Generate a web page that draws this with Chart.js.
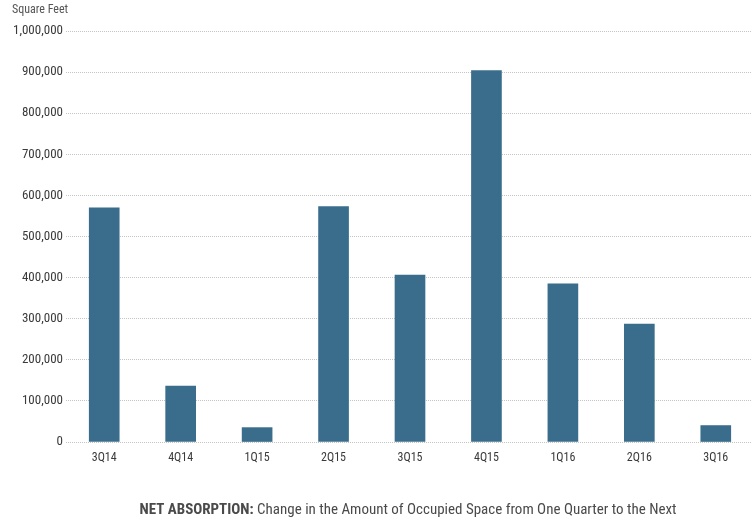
<!DOCTYPE html>
<html>
<head>
<meta charset="utf-8">
<script src="https://cdn.jsdelivr.net/npm/chart.js@4/dist/chart.umd.min.js"></script>
<style>
  html, body { margin: 0; padding: 0; background: #ffffff; overflow: hidden; }
  #wrap { width: 751px; height: 522px; position: relative; overflow: hidden; }
</style>
</head>
<body>
<div id="wrap"><canvas id="c" width="754" height="522"></canvas></div>
<script>
// Quarterly net absorption, in square feet
const quarters = ['3Q14', '4Q14', '1Q15', '2Q15', '3Q15', '4Q15', '1Q16', '2Q16', '3Q16'];
const netAbsorption = [570000, 136000, 35000, 573000, 406000, 904000, 385000, 287000, 40000];
const yTickValues = [0, 100000, 200000, 300000, 400000, 500000, 600000, 700000, 800000, 900000, 1000000];

const FONT = "'Liberation Sans Narrow', 'Roboto Condensed', 'DejaVu Sans Condensed', Roboto, sans-serif";

// Unit label above the value axis and the caption under the chart
const textPlugin = {
  id: 'extraText',
  afterDraw(chart) {
    const ctx = chart.ctx;
    ctx.save();
    ctx.textBaseline = 'middle';
    ctx.fillStyle = '#555555';
    ctx.font = '12px ' + FONT;
    ctx.textAlign = 'left';
    ctx.fillText('Square Feet', 12, 10);

    const bold = 'NET ABSORPTION:';
    const rest = ' Change in the Amount of Occupied Space from One Quarter to the Next';
    ctx.fillStyle = '#4a4a4a';
    ctx.font = 'bold 15px ' + FONT;
    const wb = ctx.measureText(bold).width;
    ctx.font = '15px ' + FONT;
    const wr = ctx.measureText(rest).width;
    const x0 = 408 - (wb + wr) / 2;
    ctx.font = 'bold 15px ' + FONT;
    ctx.fillText(bold, x0, 510);
    ctx.font = '15px ' + FONT;
    ctx.fillText(rest, x0 + wb, 510);
    ctx.restore();
  }
};

new Chart(document.getElementById('c'), {
  type: 'bar',
  data: {
    labels: quarters,
    datasets: [{
      label: 'Net Absorption',
      data: netAbsorption,
      backgroundColor: '#3a6d8c',
      borderWidth: 0,
      barThickness: 30
    }]
  },
  options: {
    responsive: false,
    animation: false,
    layout: { padding: { top: 31, right: 0, bottom: 0, left: 0 } },
    plugins: {
      legend: { display: false },
      tooltip: { enabled: false }
    },
    scales: {
      x: {
        grid: { display: false, drawTicks: false },
        border: { display: false },
        ticks: {
          color: '#3a3a3a',
          font: { family: FONT, size: 12 },
          padding: 9,
          maxRotation: 0
        },
        afterFit(scale) { scale.height = 80; }
      },
      y: {
        min: 0,
        max: 1000000,
        afterBuildTicks(scale) {
          scale.ticks = yTickValues.map(v => ({ value: v }));
        },
        grid: {
          color: '#c4c4c4',
          lineWidth: 1,
          drawTicks: false
        },
        border: { display: false, dash: [1, 1] },
        ticks: {
          color: '#3a3a3a',
          font: { family: FONT, size: 13 },
          padding: 3,
          callback: v => v.toLocaleString('en-US')
        },
        afterFit(scale) { scale.width = 66; }
      }
    }
  },
  plugins: [textPlugin]
});
</script>
</body>
</html>
